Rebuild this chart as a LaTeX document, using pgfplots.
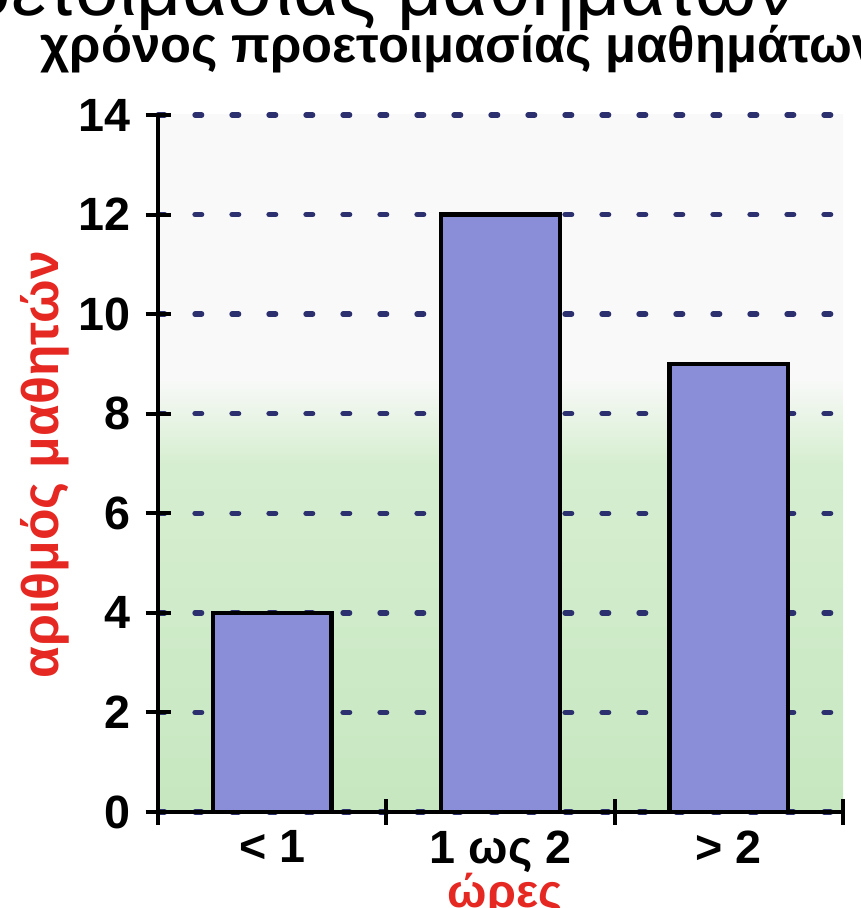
\documentclass[border=0pt]{standalone}
\usepackage{fontspec}
\setmainfont{Liberation Sans}
\usepackage{pgfplots}
\pgfplotsset{compat=1.18}
\definecolor{barblue}{RGB}{138,142,216}
\definecolor{gridnavy}{RGB}{45,48,110}
\definecolor{labred}{RGB}{230,40,35}
\definecolor{bggreen}{RGB}{198,231,192}
\definecolor{bggreen2}{RGB}{214,238,208}
\definecolor{bgtop}{RGB}{248,249,248}
\pgfdeclareverticalshading{chartbg}{100bp}{color(0bp)=(bggreen); color(25bp)=(bggreen); color(50bp)=(bggreen2); color(56bp)=(bgtop); color(100bp)=(bgtop)}
\begin{document}
\begin{tikzpicture}
\useasboundingbox (0,0) rectangle (258.3pt,272.4pt);
\node[anchor=base east, font=\fontsize{23.5}{26}\selectfont, inner sep=0pt] at (239pt,267.6pt) {Χρόνος προετοιμασίας μαθημάτων};
\node[anchor=base west, font=\fontsize{15.2}{18}\bfseries, inner sep=0pt] at (12pt,253.5pt) {χρόνος προετοιμασίας μαθημάτων};
\begin{axis}[
  at={(47.4pt,28.8pt)}, anchor=south west,
  scale only axis, width=205.5pt, height=209.1pt,
  xmin=-0.5, xmax=2.5, ymin=0, ymax=14,
  axis x line=bottom, axis y line=left,
  axis line style={-, line width=1.2pt, black},
  axis background/.style={shading=chartbg},
  ytick={0,2,...,14},
  xtick={-0.5,0.5,1.5,2.5}, xticklabels={},
  extra x ticks={0,1,2},
  extra x tick labels={{< 1},{1 ως 2},{> 2}},
  extra x tick style={major tick length=0pt, grid=none},
  tick align=center, major tick length=7.5pt,
  tick style={line width=1.2pt, black},
  ymajorgrids,
  grid style={dash pattern=on 2pt off 9.1pt, line width=1.6pt, gridnavy, line cap=round},
  /pgf/number format/assume math mode=true,
  tick label style={font=\fontsize{14}{16}\bfseries},
  yticklabel style={xshift=-1pt},
  xticklabel style={yshift=-2pt},
  ylabel={αριθμός μαθητών},
  every axis y label/.style={at={(axis description cs:-0.165,0.498)}, rotate=90, anchor=center, font=\fontsize{15.5}{18}\bfseries, text=labred},
  xlabel={ώρες},
  every axis x label/.style={at={(axis description cs:0.507,-0.137)}, anchor=base, font=\fontsize{14}{16}\bfseries, text=labred},
  clip=false,
]
\addplot[ybar, bar width=0.52, fill=barblue, draw=black, line width=1.3pt] coordinates {(0,4) (1,12) (2,9)};
\end{axis}
\end{tikzpicture}
\end{document}
